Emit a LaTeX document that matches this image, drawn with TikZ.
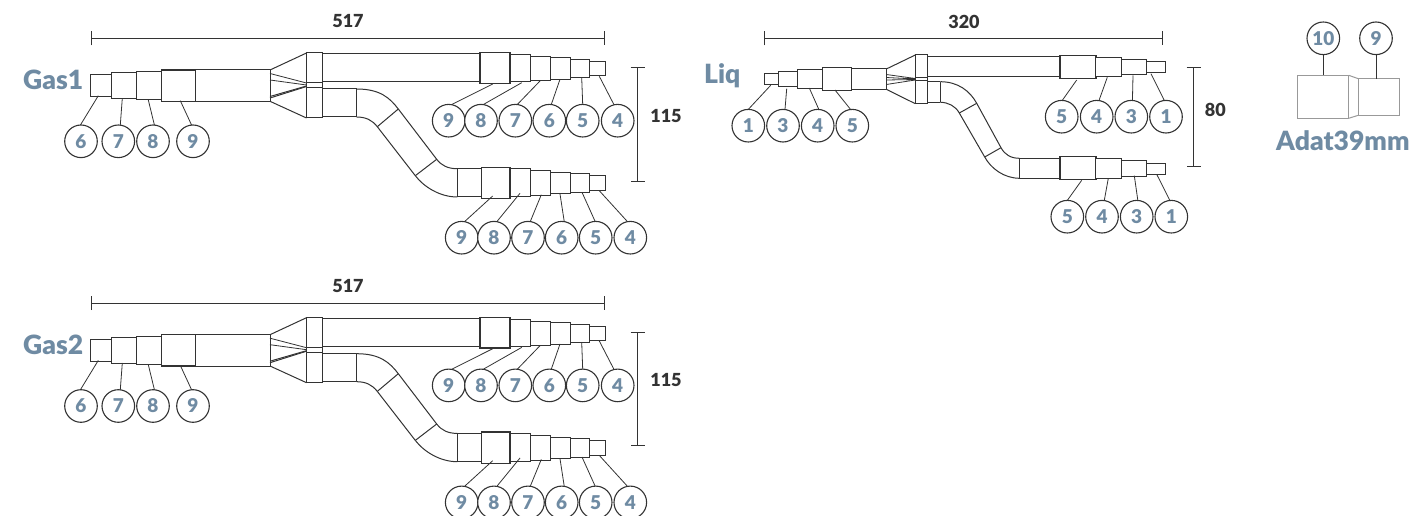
\documentclass[tikz,border=0pt]{standalone}
\usepackage{fontspec}
\setmainfont{Lato}[BoldFont={Lato Black}]
\usetikzlibrary{arrows.meta}
\definecolor{tagblue}{HTML}{6F8BA3}
\definecolor{inkgrey}{HTML}{333333}
\tikzset{
  pipe/.style   = {draw=inkgrey, line width=1pt, fill=white},
  thick pipe/.style = {pipe, line width=1.5pt},
  leader/.style = {draw=inkgrey, line width=0.8pt},
  tag/.style    = {draw=inkgrey, line width=1.1pt, circle, fill=white, inner sep=0pt, outer sep=0pt,
                   minimum size=32.6pt, text=tagblue, font=\fontsize{19}{19}\selectfont\bfseries},
  title/.style  = {text=tagblue, inner sep=0pt, font=\fontsize{26.5}{27}\selectfont\bfseries},
  size/.style   = {text=inkgrey, inner sep=0pt, font=\fontsize{18}{18}\selectfont\bfseries},
  span/.style   = {draw=inkgrey, line width=1pt, {Bar[width=14pt]}-{Bar[width=14pt]}}
}
% x, y, name, text, angle on the circle, end of the leader
\newcommand{\tagnode}[6]{
  \node [tag] at (#1,#2) (#3) {#4};
  \coordinate (#3end) at (#6);
  \draw [leader] (#3.#5) -- (#3end);
}
\newcommand{\gasunit}[2]{
  \begin{scope}[yshift=#2, name prefix=#1]
    \coordinate (spanl) at ( 91.3,38.3);
    \coordinate (spanr) at (605.3,38.3);
    \draw [span] (spanl) -- (spanr);
    \node [size] at (348,21) (len) {517};

    % inlet
    \draw [pipe]       ( 90.7,75.0) rectangle (111.5, 96.7);
    \draw [pipe]       (111.5,73.0) rectangle (136.5, 98.3);
    \draw [pipe]       (136.5,71.7) rectangle (161.5,100.0);
    \draw [thick pipe] (161.5,70.0) rectangle (195.7,101.3);
    \draw [pipe]       (195.7,70.0) rectangle (270.0,101.3);

    % splitter
    \draw [pipe]       (270,70) -- (306.5,53) (270,101.3) -- (306.5,118);
    \draw [leader]     (270,73.5) -- (306.5,83) (270,80) -- (306.5,85);
    \draw [pipe]       (270,98) -- (306.5,86.5);
    \draw [pipe]       (270,96.5) -- (306.5,86);
    \draw [pipe]       (306.5,53) rectangle (322,118);
    \draw [pipe]       (306.5,83) -- (322,83) (306.5,87.5) -- (322,87.5);

    % straight branch
    \draw [pipe]       (322,54) -- (480,54) (322,82) -- (480,82);
    \draw [thick pipe] (480.0,52.7) rectangle (510.0,83.3);
    \draw [pipe]       (510.0,54.3) rectangle (530.0,82.0);
    \draw [pipe]       (530.0,56.3) rectangle (550.3,80.7);
    \draw [pipe]       (550.3,58.0) rectangle (570.3,79.3);
    \draw [pipe]       (570.3,59.7) rectangle (589.5,77.3);
    \draw [pipe]       (589.5,61.3) rectangle (605.5,76.0);

    % bent branch
    \draw [pipe]       (322,89) -- (356.7,89) (322,117) -- (356.7,117) (356.7,89) -- (356.7,117);
    \draw [pipe]       (356.7,89) .. controls (380,89) and (389.8,97.9) .. (398.3,109) -- (436.7,159.3)
                       .. controls (441.6,165.7) and (448,168.7) .. (457.3,168.7);
    \draw [pipe]       (356.7,117) .. controls (366,117) and (372.4,120.3) .. (377.3,126.7) -- (415.3,175.7)
                       .. controls (424,187) and (440,197) .. (457.3,197);
    \draw [pipe]       (398.3,109) -- (377.3,126.7) (436.7,159.3) -- (415.3,175.7);
    \draw [pipe]       (457.3,168.7) rectangle (481.7,197);
    \draw [thick pipe] (481.7,167.3) rectangle (510.0,198.7);
    \draw [pipe]       (510.0,169.0) rectangle (530.0,196.7);
    \draw [pipe]       (530.0,170.7) rectangle (550.3,195.3);
    \draw [pipe]       (550.3,172.3) rectangle (570.3,194.0);
    \draw [pipe]       (570.3,173.7) rectangle (589.5,192.3);
    \draw [pipe]       (589.5,175.3) rectangle (605.5,190.7);

    \coordinate (dropt) at (637.7, 67.0);
    \coordinate (dropb) at (637.7,181.7);
    \draw [span] (dropt) -- (dropb);
    \node [size] at (666,115.7) (drop) {115};

    \tagnode{ 81.0}{141.3}{a1}{6}{92}{98.3,95.7}
    \tagnode{118.3}{141.3}{a2}{7}{83}{122.3,98.3}
    \tagnode{153.0}{141.3}{a3}{8}{85}{148.3,100}
    \tagnode{193.0}{141.3}{a4}{9}{95}{180.3,100.7}

    \tagnode{448.7}{120.7}{b1}{9}{80}{492.7,84}
    \tagnode{481.0}{120.7}{b2}{8}{82}{521.7,82.7}
    \tagnode{515.3}{120.7}{b3}{7}{83}{540,81}
    \tagnode{549.3}{120.7}{b4}{6}{83}{560,79.3}
    \tagnode{582.7}{120.7}{b5}{5}{90}{581.7,77.7}
    \tagnode{617.7}{120.7}{b6}{4}{103}{599.3,76.3}

    \tagnode{461.7}{237.7}{c1}{9}{80}{492.7,196}
    \tagnode{494.0}{237.7}{c2}{8}{80}{520,193.3}
    \tagnode{528.0}{237.7}{c3}{7}{82}{541.3,194.7}
    \tagnode{561.7}{237.7}{c4}{6}{81}{560,194}
    \tagnode{595.7}{237.7}{c5}{5}{92}{582,192.3}
    \tagnode{630.3}{237.7}{c6}{4}{100}{599.3,190.7}
  \end{scope}
}
\begin{document}
\begin{tikzpicture}[x=1pt, y=-1pt]
  \useasboundingbox (0,0) rectangle (1409,516);

  \gasunit{gasa}{0pt}
  \node [title, anchor=base west] at (23,89.5)  (gasa) {Gas1};

  \gasunit{gasb}{-264.7pt}
  \node [title, anchor=base west] at (23,354.2) (gasb) {Gas2};

  % liquid line
  \coordinate (liql) at ( 764.3,38.3);
  \coordinate (liqr) at (1163.3,38.3);
  \draw [span] (liql) -- (liqr);
  \node [size] at (964,21.5) (liqlen) {320};
  \node [title, anchor=base west] at (704,83.3) (liq) {Liq};

  \draw [pipe]       (764.7,74.0) rectangle (778.5,84.3);
  \draw [pipe]       (778.5,71.7) rectangle (797.3,86.7);
  \draw [pipe]       (797.3,70.0) rectangle (822.0,88.7);
  \draw [pipe]       (822.0,68.0) rectangle (851.7,90.3);
  \draw [pipe]       (851.7,69.0) rectangle (886.3,89.3);

  \draw [pipe]       (886.3,69) -- (915.3,55) (886.3,89.3) -- (915.3,103.7);
  \draw [leader]     (886.3,74.5) -- (915.3,78.5) (886.3,77.5) -- (915.3,79)
                     (886.3,80) -- (915.3,79.5) (886.3,84.5) -- (915.3,80);
  \draw [pipe]       (915.3,54.7) rectangle (927.7,103.7);
  \draw [pipe]       (915.3,77.3) -- (927.7,77.3) (915.3,80.3) -- (927.7,80.3);

  \draw [pipe]       (927.7,56.7) -- (1060,56.7) (927.7,77) -- (1060,77);
  \draw [thick pipe] (1060.0,55.3) rectangle (1095.8,78.3);
  \draw [pipe]       (1095.8,57.3) rectangle (1121.3,76.3);
  \draw [pipe]       (1121.3,59.3) rectangle (1146.2,74.3);
  \draw [pipe]       (1146.2,61.3) rectangle (1165.7,72.3);

  \draw [pipe]       (927.7,81.7) -- (940.3,81.7) (927.7,102.3) -- (940.3,102.3) (940.3,81.7) -- (940.3,102.3);
  \draw [pipe]       (940.3,81.7) .. controls (958,81.7) and (970,91) .. (976.7,103.3) -- (1001,147.7)
                     .. controls (1005,155) and (1011,158.3) .. (1019.7,158.3);
  \draw [pipe]       (940.3,102.3) .. controls (948,102.3) and (955.5,106) .. (959.3,113) -- (984.7,157)
                     .. controls (991,168.5) and (1004,178.3) .. (1019.7,178.3);
  \draw [pipe]       (976.7,103.3) -- (959.3,113) (1001,147.7) -- (984.7,157);
  \draw [pipe]       (1019.7,158.3) rectangle (1060,178.3);
  \draw [thick pipe] (1060.0,156.7) rectangle (1095.8,179.7);
  \draw [pipe]       (1095.8,158.7) rectangle (1121.3,178.3);
  \draw [pipe]       (1121.3,160.7) rectangle (1146.2,176.3);
  \draw [pipe]       (1146.2,163.3) rectangle (1165.7,174.3);

  \coordinate (liqt) at (1193.7, 67.0);
  \coordinate (liqb) at (1193.7,167.3);
  \draw [span] (liqt) -- (liqb);
  \node [size] at (1215.3,110) (liqdrop) {80};

  \tagnode{748.3}{125.7}{ql1}{1}{90}{770.7,85.3}
  \tagnode{783.0}{125.7}{ql2}{3}{83}{786.7,88.7}
  \tagnode{817.7}{125.7}{ql3}{4}{86}{809.3,88}
  \tagnode{852.3}{125.7}{ql4}{5}{96}{835,90}

  \tagnode{1061.7}{116.7}{qu1}{5}{88}{1076.7,80}
  \tagnode{1096.7}{116.7}{qu2}{4}{82}{1107.3,77.3}
  \tagnode{1131.3}{116.7}{qu3}{3}{86}{1133,75.3}
  \tagnode{1166.0}{116.7}{qu4}{1}{96}{1151,73.7}

  \tagnode{1067.3}{216.7}{qd1}{5}{90}{1081.7,180.3}
  \tagnode{1102.0}{216.7}{qd2}{4}{82}{1108.3,178.3}
  \tagnode{1136.7}{216.7}{qd3}{3}{86}{1134.3,175.7}
  \tagnode{1171.3}{216.7}{qd4}{1}{95}{1156.7,174.3}

  % adapter
  \draw [pipe, draw=gray!80] (1297.3,75.3) rectangle (1348.7,118.3);
  \draw [pipe, draw=gray!80] (1358.3,78.7) rectangle (1399.3,115.3);
  \draw [pipe, draw=gray!80] (1348.7,75.3) -- (1358.3,78.7) (1348.7,118.3) -- (1358.3,115.3);
  \node [tag] at (1323.3,38.3) (ad1) {10};
  \node [tag] at (1376.0,38.3) (ad2) {9};
  \coordinate (ad1end) at (1323.3,75.3);
  \coordinate (ad2end) at (1376.0,78.7);
  \draw [leader, line width=1pt] (ad1) -- (ad1end);
  \draw [leader, line width=1pt] (ad2) -- (ad2end);
  \node [title, anchor=base west] at (1276,150.7) (adat) {Adat39mm};
\end{tikzpicture}
\end{document}
